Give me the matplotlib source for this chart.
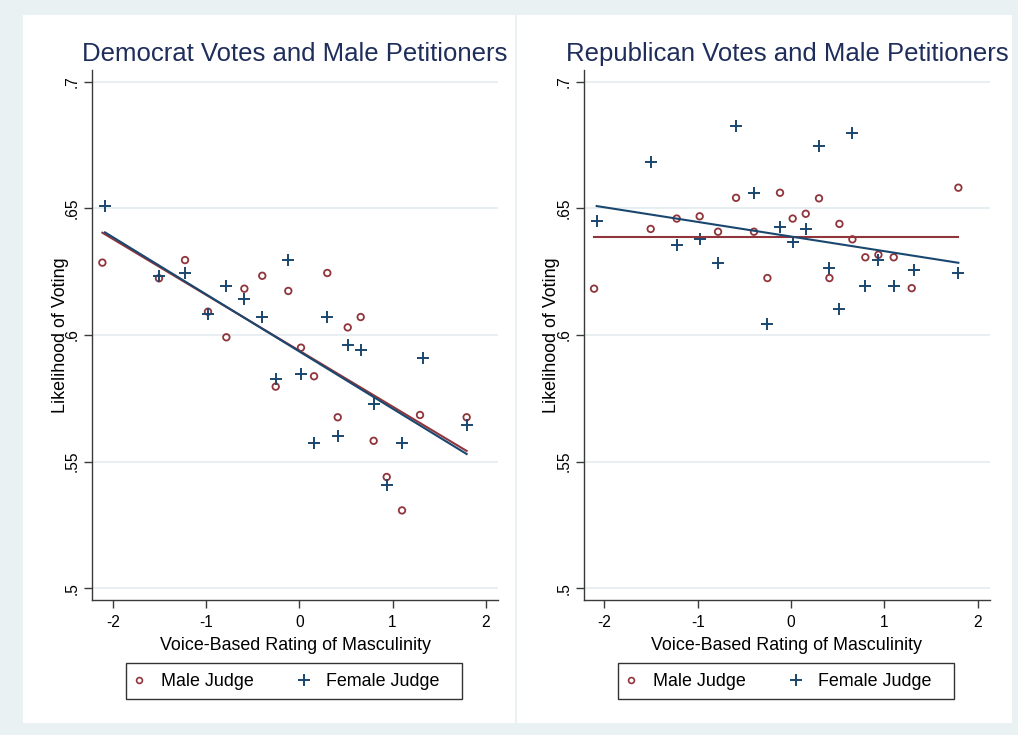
import matplotlib
matplotlib.use("Agg")
import matplotlib.pyplot as plt
from matplotlib.patches import Rectangle
from matplotlib.lines import Line2D
import numpy as np

# Binned means of the voice-based masculinity rating (x) and the share of votes (y)
male_x = [-2.111, -1.504, -1.225, -0.979, -0.782, -0.589, -0.397, -0.253, -0.118, 0.018,
          0.158, 0.300, 0.412, 0.519, 0.658, 0.797, 0.937, 1.101, 1.294, 1.794]
female_x = [-2.083, -1.504, -1.225, -0.979, -0.782, -0.589, -0.397, -0.253, -0.118, 0.018,
            0.158, 0.297, 0.412, 0.519, 0.658, 0.797, 0.937, 1.101, 1.323, 1.794]

dem_male_y = [0.6286, 0.6224, 0.6296, 0.6092, 0.5991, 0.6183, 0.6234, 0.5796, 0.6174, 0.5950,
              0.5837, 0.6245, 0.5675, 0.6030, 0.6071, 0.5582, 0.5439, 0.5307, 0.5684, 0.5675]
dem_female_y = [0.6510, 0.6234, 0.6246, 0.6083, 0.6194, 0.6143, 0.6072, 0.5826, 0.6295, 0.5847,
                0.5572, 0.6071, 0.5602, 0.5959, 0.5940, 0.5726, 0.5407, 0.5572, 0.5909, 0.5643]
rep_male_y = [0.6183, 0.6419, 0.6460, 0.6469, 0.6408, 0.6542, 0.6408, 0.6225, 0.6562, 0.6460,
              0.6479, 0.6540, 0.6225, 0.6439, 0.6378, 0.6307, 0.6317, 0.6307, 0.6185, 0.6582]
rep_female_y = [0.6449, 0.6684, 0.6357, 0.6378, 0.6286, 0.6827, 0.6562, 0.6042, 0.6428, 0.6368,
                0.6419, 0.6747, 0.6266, 0.6103, 0.6797, 0.6195, 0.6296, 0.6195, 0.6256, 0.6246]

# Linear fits (intercept, slope)
dem_male_fit = (0.5938, -0.02208)
dem_female_fit = (0.5935, -0.02259)
rep_male_fit = (0.6389, 0.0)
rep_female_fit = (0.6389, -0.00578)

titles = ["Democrat Votes and Male Petitioners", "Republican Votes and Male Petitioners"]
x_ticks = [-2, -1, 0, 1, 2]
y_ticks = [0.5, 0.55, 0.6, 0.65, 0.7]
y_ticklabels = [".5", ".55", ".6", ".65", ".7"]
x_title = "Voice-Based Rating of Masculinity"
y_title = "Likelihood of Voting"
legend_labels = ["Male Judge", "Female Judge"]

MAROON = "#90353B"
NAVY = "#1A476F"
TITLE_COLOR = "#1E2D5A"
OUTER_BG = "#EAF1F3"
GRID = "#E4ECF0"
SPINE = "#3A3A3A"

plt.rcParams["font.family"] = ["Liberation Sans", "DejaVu Sans"]

W, H = 1018, 735
fig = plt.figure(figsize=(W / 100, H / 100), dpi=100)
fig.patch.set_facecolor(OUTER_BG)

# White sub-graph regions
for (x0, x1) in [(23, 515), (517, 1012)]:
    fig.patches.append(Rectangle((x0 / W, 1 - 723 / H), (x1 - x0) / W, (723 - 15) / H,
                                 transform=fig.transFigure, facecolor="white",
                                 edgecolor="none", zorder=-10))

ax_w = (498 - 92.3) / W
ax_h = (600 - 70) / H
ax_bottom = 1 - 600 / H
left_px = [92.3, 584.0]

panels = [
    (dem_male_y, dem_female_y, dem_male_fit, dem_female_fit),
    (rep_male_y, rep_female_y, rep_male_fit, rep_female_fit),
]

for i, (my, fy, mfit, ffit) in enumerate(panels):
    ax = fig.add_axes([left_px[i] / W, ax_bottom, ax_w, ax_h])
    ax.set_facecolor("white")
    ax.set_xlim(-2.219, 2.13)
    ax.set_ylim(0.4953, 0.7047)

    for yt in y_ticks:
        ax.axhline(yt, color=GRID, lw=1.2, zorder=1)

    ax.scatter(male_x, my, s=22, facecolors="none", edgecolors=MAROON,
               linewidths=1.3, marker="o", zorder=3)
    ax.scatter(female_x, fy, s=70, c=NAVY, marker="+", linewidths=1.4, zorder=3)

    xm = np.array([min(male_x), max(male_x)])
    xf = np.array([min(female_x), max(female_x)])
    ax.plot(xm, mfit[0] + mfit[1] * xm, color=MAROON, lw=1.5, zorder=4)
    ax.plot(xf, ffit[0] + ffit[1] * xf, color=NAVY, lw=1.5, zorder=5)

    for side in ["top", "right"]:
        ax.spines[side].set_visible(False)
    for side in ["left", "bottom"]:
        ax.spines[side].set_color(SPINE)
        ax.spines[side].set_linewidth(1.0)

    ax.set_xticks(x_ticks)
    ax.set_xticklabels([str(t) if t >= 0 else "-" + str(abs(t)) for t in x_ticks])
    ax.set_yticks(y_ticks)
    ax.set_yticklabels(y_ticklabels, rotation=90, va="center")
    ax.tick_params(axis="both", length=5.5, width=1.0, color=SPINE, labelsize=11.2,
                   labelcolor="black")
    ax.tick_params(axis="x", pad=5)
    ax.tick_params(axis="y", pad=3.5)

    ax.set_xlabel(x_title, fontsize=12.9, labelpad=5)
    ax.set_ylabel(y_title, fontsize=12.9)
    ax.yaxis.set_label_coords(-0.058, 0.5)

    ax.set_title(titles[i], fontsize=18.5, color=TITLE_COLOR, pad=6.5)

    # Legend below each panel
    handles = [
        Line2D([], [], linestyle="none", marker="o", markersize=4.2, markerfacecolor="none",
               markeredgecolor=MAROON, markeredgewidth=1.2),
        Line2D([], [], linestyle="none", marker="+", markersize=9, color=NAVY,
               markeredgewidth=1.4),
    ]
    lx = left_px[i]
    fig.legend(handles, legend_labels, loc="center left", ncol=2,
               bbox_to_anchor=((lx + 38.7) / W, 1 - 682 / H), bbox_transform=fig.transFigure,
               fontsize=12.9, frameon=False, handlelength=0.9, handletextpad=0.78,
               columnspacing=2.35, borderpad=0, borderaxespad=0)
    fig.patches.append(Rectangle(((lx + 33.7) / W, 1 - 699 / H), 336 / W, 36 / H,
                                 transform=fig.transFigure, facecolor="none",
                                 edgecolor="#333333", lw=1.0, zorder=5))

fig.savefig("out.png", dpi=100, facecolor=fig.get_facecolor())
